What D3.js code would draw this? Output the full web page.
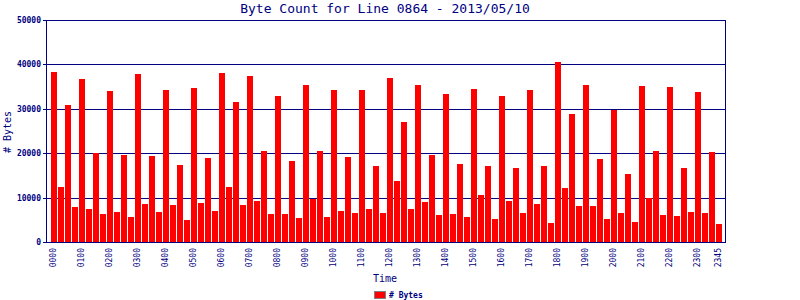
<!DOCTYPE html>
<html>
<head>
<meta charset="utf-8">
<script src="https://cdn.jsdelivr.net/npm/d3@7"></script>
<style>
  body { margin: 0; background: #fff; }
  svg { display: block; }
  text { font-family: 'DejaVu Sans Mono', monospace; fill: #000080; }
</style>
</head>
<body>
<svg width="800" height="300"></svg>
<script>
const title = 'Byte Count for Line 0864 - 2013/05/10';

const times = [
  '0000', '0015', '0030', '0045', '0100', '0115', '0130', '0145',
  '0200', '0215', '0230', '0245', '0300', '0315', '0330', '0345',
  '0400', '0415', '0430', '0445', '0500', '0515', '0530', '0545',
  '0600', '0615', '0630', '0645', '0700', '0715', '0730', '0745',
  '0800', '0815', '0830', '0845', '0900', '0915', '0930', '0945',
  '1000', '1015', '1030', '1045', '1100', '1115', '1130', '1145',
  '1200', '1215', '1230', '1245', '1300', '1315', '1330', '1345',
  '1400', '1415', '1430', '1445', '1500', '1515', '1530', '1545',
  '1600', '1615', '1630', '1645', '1700', '1715', '1730', '1745',
  '1800', '1815', '1830', '1845', '1900', '1915', '1930', '1945',
  '2000', '2015', '2030', '2045', '2100', '2115', '2130', '2145',
  '2200', '2215', '2230', '2245', '2300', '2315', '2330', '2345',
];

const bytes = [
  38300, 12400, 30900, 7900, 36700, 7500, 20000, 6400,
  34000, 6800, 19600, 5700, 37800, 8600, 19400, 6800,
  34200, 8400, 17400, 5000, 34700, 8800, 18900, 7000,
  38000, 12400, 31500, 8400, 37400, 9300, 20500, 6400,
  32900, 6400, 18200, 5400, 35400, 9700, 20500, 5600,
  34200, 7000, 19100, 6500, 34200, 7400, 17100, 6500,
  36900, 13700, 27000, 7400, 35400, 9000, 19600, 6100,
  33300, 6400, 17600, 5600, 34500, 10600, 17100, 5200,
  32900, 9300, 16700, 6500, 34200, 8600, 17100, 4300,
  40500, 12200, 28800, 8100, 35400, 8100, 18700, 5200,
  29700, 6500, 15300, 4500, 35100, 9900, 20500, 6100,
  34900, 5900, 16700, 6800, 33800, 6500, 20300, 4100,
];

const tickLabels = [
  '0000', '0100', '0200', '0300', '0400', '0500', '0600', '0700',
  '0800', '0900', '1000', '1100', '1200', '1300', '1400', '1500',
  '1600', '1700', '1800', '1900', '2000', '2100', '2200', '2300', '2345',
];

const yTicks = [0, 10000, 20000, 30000, 40000, 50000];

const navy = '#000080';
const plotLeft = 46, plotRight = 725, plotTop = 20, plotBottom = 242;

const svg = d3.select('svg').attr('shape-rendering', 'crispEdges');

const x = d3.scaleBand()
  .domain(times)
  .range([51, 722])
  .paddingInner(1 / 7)
  .paddingOuter(0);

const y = d3.scaleLinear()
  .domain([0, 50000])
  .range([plotBottom, plotTop]);

// grid lines
svg.append('g')
  .selectAll('line')
  .data(yTicks)
  .enter()
  .append('line')
    .attr('x1', plotLeft)
    .attr('x2', plotRight)
    .attr('y1', (d) => Math.round(y(d)) + 0.5)
    .attr('y2', (d) => Math.round(y(d)) + 0.5)
    .attr('stroke', navy);

// bars
svg.append('g')
  .selectAll('rect')
  .data(times)
  .enter()
  .append('rect')
    .attr('x', (d) => x(d))
    .attr('width', x.bandwidth())
    .attr('y', (d, i) => y(bytes[i]))
    .attr('height', (d, i) => plotBottom - y(bytes[i]))
    .attr('fill', '#ff0000');

// frame
svg.append('line')
  .attr('x1', plotLeft + 0.5).attr('x2', plotLeft + 0.5)
  .attr('y1', plotTop).attr('y2', plotBottom + 1)
  .attr('stroke', navy);
svg.append('line')
  .attr('x1', plotRight + 0.5).attr('x2', plotRight + 0.5)
  .attr('y1', plotTop).attr('y2', plotBottom + 1)
  .attr('stroke', navy);
svg.append('line')
  .attr('x1', plotLeft).attr('x2', plotRight + 1)
  .attr('y1', plotBottom + 0.5).attr('y2', plotBottom + 0.5)
  .attr('stroke', navy);

// y axis
const yAxis = d3.axisLeft(y)
  .tickValues(yTicks)
  .tickSize(3)
  .tickPadding(2)
  .tickFormat(d3.format('d'));

svg.append('g')
  .attr('transform', `translate(${plotLeft},0)`)
  .call(yAxis)
  .call((g) => g.select('.domain').remove())
  .call((g) => g.selectAll('line').attr('stroke', navy))
  .call((g) => g.selectAll('text')
    .attr('fill', navy)
    .style('font-family', "'DejaVu Sans Mono', monospace")
    .style('font-size', '8px')
    .style('font-weight', 'bold'));

// x axis
const xAxis = d3.axisBottom(x)
  .tickValues(tickLabels)
  .tickSize(0)
  .tickPadding(0);

svg.append('g')
  .attr('transform', `translate(0,${plotBottom})`)
  .call(xAxis)
  .call((g) => g.select('.domain').remove())
  .call((g) => g.selectAll('text')
    .attr('fill', navy)
    .attr('transform', 'translate(-1,6) rotate(-90)')
    .attr('text-anchor', 'end')
    .attr('dy', '0.35em')
    .attr('y', 0)
    .style('font-family', "'DejaVu Sans Mono', monospace")
    .style('font-size', '8px'));

// titles
svg.append('text')
  .attr('x', 385)
  .attr('y', 13)
  .attr('text-anchor', 'middle')
  .style('font-size', '13px')
  .text(title);

svg.append('text')
  .attr('x', 385)
  .attr('y', 282)
  .attr('text-anchor', 'middle')
  .style('font-size', '10px')
  .text('Time');

svg.append('text')
  .attr('transform', 'translate(11,132) rotate(-90)')
  .attr('text-anchor', 'middle')
  .style('font-size', '10px')
  .text('# Bytes');

// legend
svg.append('rect')
  .attr('x', 374.5)
  .attr('y', 291.5)
  .attr('width', 11)
  .attr('height', 7)
  .attr('fill', '#ff0000')
  .attr('stroke', '#808080');

svg.append('text')
  .attr('x', 389)
  .attr('y', 298)
  .style('font-size', '8px')
  .style('font-weight', 'bold')
  .text('# Bytes');
</script>
</body>
</html>
